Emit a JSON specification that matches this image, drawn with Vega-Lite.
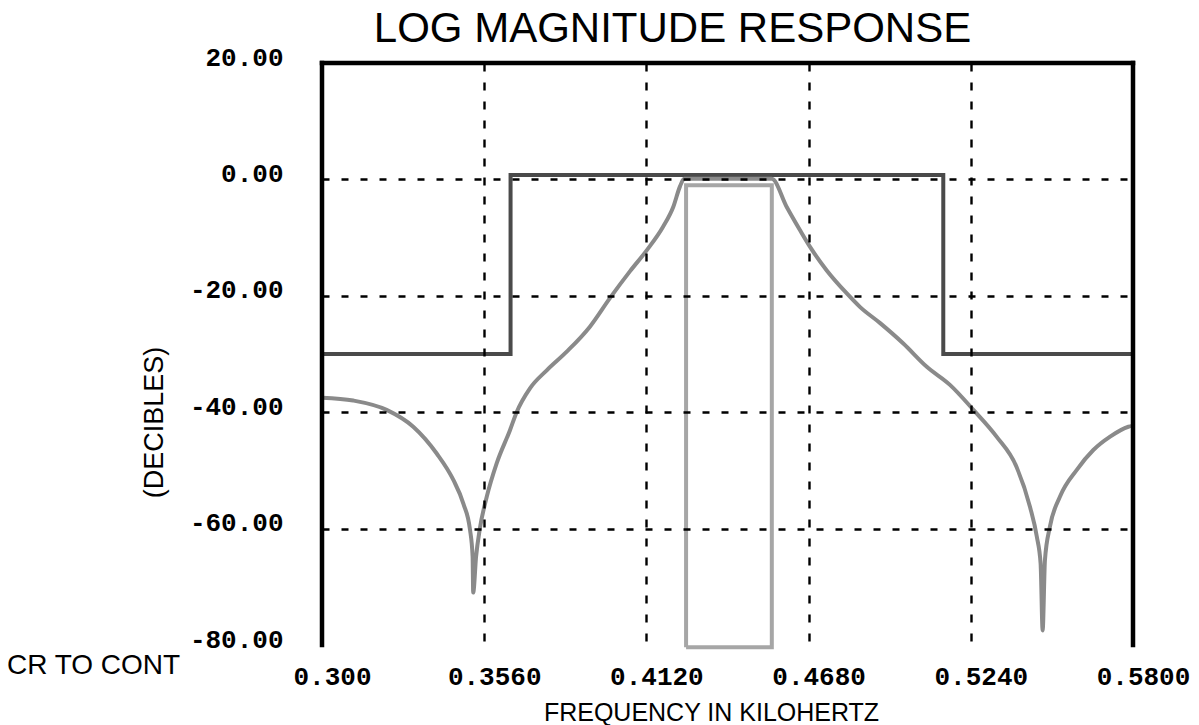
{
  "$schema": "https://vega.github.io/schema/vega-lite/v6.json",
  "width": 811,
  "height": 582,
  "autosize": {"type": "none"},
  "padding": {"left": 322, "top": 63, "right": 66, "bottom": 80},
  "background": "white",
  "view": {"stroke": null},
  "title": {
    "text": "LOG MAGNITUDE RESPONSE",
    "font": "Liberation Sans",
    "fontSize": 42,
    "fontWeight": "normal",
    "color": "black",
    "anchor": "middle",
    "frame": "group",
    "dx": -55,
    "baseline": "alphabetic",
    "offset": -40
  },
  "datasets": {
    "curves": [
      {"series": "mask", "i": 1, "f": 0.3, "db": -30},
      {"series": "mask", "i": 2, "f": 0.3651, "db": -30},
      {"series": "mask", "i": 3, "f": 0.3651, "db": 0.75},
      {"series": "mask", "i": 4, "f": 0.5145, "db": 0.75},
      {"series": "mask", "i": 5, "f": 0.5145, "db": -30},
      {"series": "mask", "i": 6, "f": 0.58, "db": -30},
      {"series": "box", "i": 1, "f": 0.4257, "db": -80.4},
      {"series": "box", "i": 2, "f": 0.4257, "db": -1},
      {"series": "box", "i": 3, "f": 0.4553, "db": -1},
      {"series": "box", "i": 4, "f": 0.4553, "db": -80.4},
      {"series": "box", "i": 5, "f": 0.4257, "db": -80.4},
      {"series": "resp", "i": 1, "f": 0.3, "db": -37.5},
      {"series": "resp", "i": 2, "f": 0.3108, "db": -38.0},
      {"series": "resp", "i": 3, "f": 0.3223, "db": -39.6},
      {"series": "resp", "i": 4, "f": 0.3315, "db": -42.5},
      {"series": "resp", "i": 5, "f": 0.3396, "db": -47.1},
      {"series": "resp", "i": 6, "f": 0.3453, "db": -51.6},
      {"series": "resp", "i": 7, "f": 0.3488, "db": -55.7},
      {"series": "resp", "i": 8, "f": 0.3511, "db": -60.2},
      {"series": "resp", "i": 9, "f": 0.352, "db": -64.8},
      {"series": "resp", "i": 10, "f": 0.3522, "db": -71.0},
      {"series": "resp", "i": 11, "f": 0.3532, "db": -64.8},
      {"series": "resp", "i": 12, "f": 0.3545, "db": -60.0},
      {"series": "resp", "i": 13, "f": 0.3569, "db": -54.5},
      {"series": "resp", "i": 14, "f": 0.3603, "db": -48.8},
      {"series": "resp", "i": 15, "f": 0.3649, "db": -43.1},
      {"series": "resp", "i": 16, "f": 0.3672, "db": -40.0},
      {"series": "resp", "i": 17, "f": 0.3718, "db": -35.9},
      {"series": "resp", "i": 18, "f": 0.3776, "db": -32.8},
      {"series": "resp", "i": 19, "f": 0.3845, "db": -29.6},
      {"series": "resp", "i": 20, "f": 0.3925, "db": -25.3},
      {"series": "resp", "i": 21, "f": 0.3994, "db": -20.4},
      {"series": "resp", "i": 22, "f": 0.4063, "db": -15.8},
      {"series": "resp", "i": 23, "f": 0.4121, "db": -12.2},
      {"series": "resp", "i": 24, "f": 0.4178, "db": -8.1},
      {"series": "resp", "i": 25, "f": 0.4213, "db": -4.7},
      {"series": "resp", "i": 26, "f": 0.4236, "db": -1.2},
      {"series": "resp", "i": 27, "f": 0.425, "db": 0.1},
      {"series": "resp", "i": 28, "f": 0.4553, "db": 0.1},
      {"series": "resp", "i": 29, "f": 0.4604, "db": -4.7},
      {"series": "resp", "i": 30, "f": 0.465, "db": -8.7},
      {"series": "resp", "i": 31, "f": 0.4685, "db": -11.6},
      {"series": "resp", "i": 32, "f": 0.4742, "db": -15.6},
      {"series": "resp", "i": 33, "f": 0.4812, "db": -19.6},
      {"series": "resp", "i": 34, "f": 0.4857, "db": -21.9},
      {"series": "resp", "i": 35, "f": 0.4927, "db": -24.7},
      {"series": "resp", "i": 36, "f": 0.5007, "db": -28.2},
      {"series": "resp", "i": 37, "f": 0.5088, "db": -32.2},
      {"series": "resp", "i": 38, "f": 0.5168, "db": -35.3},
      {"series": "resp", "i": 39, "f": 0.5249, "db": -39.6},
      {"series": "resp", "i": 40, "f": 0.5329, "db": -44.2},
      {"series": "resp", "i": 41, "f": 0.5398, "db": -49.4},
      {"series": "resp", "i": 42, "f": 0.5444, "db": -56.2},
      {"series": "resp", "i": 43, "f": 0.5468, "db": -61.4},
      {"series": "resp", "i": 44, "f": 0.5481, "db": -66.0},
      {"series": "resp", "i": 45, "f": 0.5488, "db": -77.5},
      {"series": "resp", "i": 46, "f": 0.5496, "db": -65.4},
      {"series": "resp", "i": 47, "f": 0.5513, "db": -59.7},
      {"series": "resp", "i": 48, "f": 0.5548, "db": -54.5},
      {"series": "resp", "i": 49, "f": 0.5606, "db": -49.9},
      {"series": "resp", "i": 50, "f": 0.5663, "db": -46.5},
      {"series": "resp", "i": 51, "f": 0.5721, "db": -44.2},
      {"series": "resp", "i": 52, "f": 0.5784, "db": -42.5},
      {"series": "resp", "i": 53, "f": 0.58, "db": -42.3}
    ],
    "notes": [{"label": "CR TO CONT", "f": 0.3, "db": -80}]
  },
  "data": {"name": "curves"},
  "encoding": {
    "x": {
      "field": "f",
      "type": "quantitative",
      "scale": {"domain": [0.3, 0.58], "nice": false, "zero": false},
      "axis": {
        "orient": "bottom",
        "values": [0.3, 0.356, 0.412, 0.468, 0.524, 0.58],
        "labelExpr": "abs(datum.value - 0.3) < 1e-9 ? '0.300' : format(datum.value, '.4f')",
        "labelFont": "Liberation Mono",
        "labelFontWeight": "bold",
        "labelFontSize": 26,
        "labelColor": "black",
        "labelPadding": 18,
        "labelOffset": 10,
        "labelFlush": false,
        "labelOverlap": false,
        "ticks": false,
        "tickSize": 0,
        "domain": false,
        "grid": true,
        "gridColor": "black",
        "gridWidth": 2.4,
        "gridDash": [8, 11],
        "gridOpacity": {"condition": {"test": "datum.value < 0.31 || datum.value > 0.57", "value": 0}, "value": 1},
        "zindex": 1,
        "title": "FREQUENCY IN KILOHERTZ",
        "titleFont": "Liberation Sans",
        "titleFontSize": 25,
        "titleFontWeight": "normal",
        "titleColor": "black",
        "titleX": 389,
        "titleY": 67,
        "titleAlign": "center",
        "titleBaseline": "middle"
      }
    },
    "y": {
      "field": "db",
      "type": "quantitative",
      "scale": {"domain": [-80, 20], "nice": false, "zero": false},
      "axis": {
        "orient": "left",
        "values": [20, 0, -20, -40, -60, -80],
        "labelExpr": "replace(format(datum.value, '.2f'), '\u2212', '-')",
        "labelFont": "Liberation Mono",
        "labelFontWeight": "bold",
        "labelFontSize": 26,
        "labelColor": "black",
        "labelPadding": 39,
        "labelOffset": -6,
        "labelFlush": false,
        "labelOverlap": false,
        "ticks": false,
        "tickSize": 0,
        "domain": false,
        "grid": true,
        "gridColor": "black",
        "gridWidth": 2.4,
        "gridDash": [7, 12],
        "gridOpacity": {"condition": {"test": "datum.value < -79 || datum.value > 19", "value": 0}, "value": 1},
        "zindex": 1,
        "title": "(DECIBLES)",
        "titleFont": "Liberation Sans",
        "titleFontSize": 27,
        "titleFontWeight": "normal",
        "titleColor": "black",
        "titleX": -168,
        "titleY": 359,
        "titleAlign": "center",
        "titleBaseline": "middle"
      }
    }
  },
  "layer": [
    {
      "transform": [{"filter": "datum.series === 'mask'"}],
      "mark": {"type": "line", "color": "#4a4a4a", "strokeWidth": 4, "strokeJoin": "miter"},
      "encoding": {"order": {"field": "i", "type": "quantitative"}}
    },
    {
      "transform": [{"filter": "datum.series === 'resp'"}],
      "mark": {"type": "line", "color": "#8a8a8a", "strokeWidth": 4, "strokeJoin": "round", "interpolate": "monotone"},
      "encoding": {"order": {"field": "i", "type": "quantitative"}}
    },
    {
      "transform": [{"filter": "datum.series === 'box'"}],
      "mark": {"type": "line", "color": "#a6a6a6", "strokeWidth": 4, "strokeJoin": "miter"},
      "encoding": {"order": {"field": "i", "type": "quantitative"}}
    },
    {
      "data": {"values": [{"edge": 0.3}, {"edge": 0.58}]},
      "mark": {"type": "rule", "color": "black", "strokeWidth": 4.5, "strokeCap": "square"},
      "encoding": {"x": {"field": "edge", "type": "quantitative"}, "y": null}
    },
    {
      "data": {"values": [{"top": 20}]},
      "mark": {"type": "rule", "color": "black", "strokeWidth": 4.5, "strokeCap": "square"},
      "encoding": {"y": {"field": "top", "type": "quantitative"}, "x": null}
    },
    {
      "data": {"name": "notes"},
      "mark": {
        "type": "text",
        "font": "Liberation Sans",
        "fontSize": 28,
        "color": "black",
        "align": "left",
        "baseline": "middle",
        "dx": -315,
        "dy": 21
      },
      "encoding": {
        "text": {"field": "label", "type": "nominal"}
      }
    }
  ]
}
